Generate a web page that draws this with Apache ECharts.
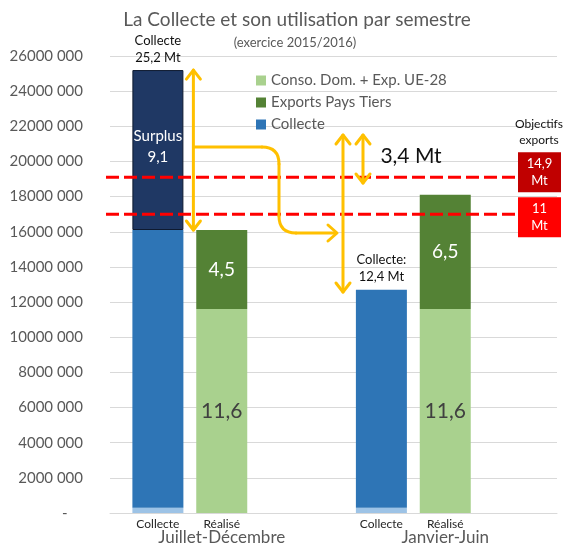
<!DOCTYPE html>
<html>
<head>
<meta charset="utf-8">
<script src="https://cdn.jsdelivr.net/npm/echarts@6/dist/echarts.min.js"></script>
<style>
  html, body { margin: 0; padding: 0; background: #fff; }
  #chart { width: 565px; height: 546px; }
</style>
</head>
<body>
<div id="chart"></div>
<script>
// x slots of the category axis (empty slots give the spacing between the two semesters)
const slotLabels = ["", "Collecte", "", "Réalisé", "", "", "", "", "Collecte", "", "Réalisé", "", "", ""];
const periodLabels = ["", "", "", "Juillet-Décembre", "", "", "", "", "", "", "Janvier-Juin", "", "", ""];
const barSlots = [1, 3, 8, 10];

// values in Mt, one entry per bar
const baseValues = [0.3, 0, 0.3, 0];
const collecteValues = [15.8, 0, 12.4, 0];
const surplusValues = [9.1, 0, 0, 0];
const consoValues = [0, 11.6, 0, 11.6];
const exportsValues = [0, 4.5, 0, 6.5];

// objective lines (axis level, Mt) and their boxes
const objectiveLevels = [19.1, 17.0];
const objectiveTexts = ["14,9\nMt", "11\nMt"];
const objectiveColors = ["#C00000", "#FF0000"];

const yTicks = {min: 0, max: 26000000, interval: 2000000};

const FONT = "Lato, 'Open Sans', sans-serif";
const ORANGE = "#FFC000";

const chart = echarts.init(document.getElementById("chart"));

function toSlots(values) {
    const out = slotLabels.map(() => null);
    barSlots.forEach((slot, i) => {
        out[slot] = values[i] ? values[i] * 1e6 : null;
    });
    return out;
}

function fmt(v) {
    return (v / 1e6).toFixed(1).replace(".", ",");
}

const barWidth = 51;

chart.setOption({
    animation: false,
    textStyle: {fontFamily: FONT},
    grid: {left: 110, right: 8, top: 56, bottom: 33},
    legend: {
        orient: "vertical",
        left: 251,
        top: 68,
        itemWidth: 10,
        itemHeight: 10,
        itemGap: 7,
        icon: "rect",
        textStyle: {fontSize: 15, color: "#595959", fontFamily: FONT},
        data: ["Conso. Dom. + Exp. UE-28", "Exports Pays Tiers", "Collecte"]
    },
    xAxis: [{
        type: "category",
        data: slotLabels,
        axisLine: {lineStyle: {color: "#D9D9D9"}},
        axisTick: {show: false},
        axisLabel: {interval: 0, fontSize: 12, color: "#262626", margin: 5}
    }, {
        type: "category",
        position: "bottom",
        data: periodLabels,
        axisLine: {show: false},
        axisTick: {show: false},
        splitLine: {show: false},
        axisLabel: {interval: 0, fontSize: 17, color: "#595959", margin: 16}
    }],
    yAxis: {
        type: "value",
        min: yTicks.min,
        max: yTicks.max,
        interval: yTicks.interval,
        axisLine: {show: false},
        axisTick: {show: false},
        splitLine: {lineStyle: {color: "#D9D9D9"}},
        axisLabel: {
            fontSize: 15,
            color: "#595959",
            margin: 27,
            formatter: v => v === 0 ? "-    " : `${Math.floor(v / 1000)} 000`
        }
    },
    series: [{
        name: "base",
        type: "bar",
        stack: "s",
        barWidth,
        data: toSlots(baseValues),
        itemStyle: {color: "#9DC3E6"}
    }, {
        name: "Collecte",
        type: "bar",
        stack: "s",
        barWidth,
        data: toSlots(collecteValues),
        itemStyle: {color: "#2E75B6"},
        label: {
            show: true,
            position: "top",
            distance: 4,
            fontSize: 13,
            lineHeight: 17,
            color: "#111",
            formatter: p => p.dataIndex === barSlots[2] ? `Collecte:\n${fmt(p.value)} Mt` : ""
        }
    }, {
        name: "Surplus",
        type: "bar",
        stack: "s",
        barWidth,
        data: toSlots(surplusValues),
        itemStyle: {color: "#1F3864", borderColor: "#0E1A30", borderWidth: 1},
        label: {
            show: true,
            position: "inside",
            offset: [0, -3],
            fontSize: 15,
            lineHeight: 21,
            color: "#fff",
            formatter: p => `Surplus\n${fmt(p.value)}`
        }
    }, {
        name: "Conso. Dom. + Exp. UE-28",
        type: "bar",
        stack: "s",
        barWidth,
        data: toSlots(consoValues),
        itemStyle: {color: "#A9D18E"},
        label: {show: true, position: "inside", fontSize: 21, color: "#404040", formatter: p => fmt(p.value)}
    }, {
        name: "Exports Pays Tiers",
        type: "bar",
        stack: "s",
        barWidth,
        data: toSlots(exportsValues),
        itemStyle: {color: "#548235"},
        label: {show: true, position: "inside", fontSize: 19, color: "#fff", formatter: p => fmt(p.value)}
    }]
});

const yPix = v => chart.convertToPixel({yAxisIndex: 0}, v * 1e6);
const xPix = slot => chart.convertToPixel({xAxisIndex: 0}, slot);

function textEl(text, x, y, size, color, extra = {}) {
    return {
        type: "text",
        x, y,
        z: 100,
        style: {
            text,
            fill: color,
            font: `normal ${size}px ${FONT}`,
            align: "center",
            verticalAlign: "middle",
            textAlign: "center",
            textVerticalAlign: "middle",
            lineHeight: extra.lineHeight || size + 3
        }
    };
}

const orangeStyle = {stroke: ORANGE, lineWidth: 3, fill: null, lineJoin: "round", lineCap: "round"};

function line(points) {
    return {type: "polyline", z: 90, shape: {points}, style: orangeStyle};
}

function curve(x1, y1, cx, cy, x2, y2) {
    return {type: "bezierCurve", z: 90, shape: {x1, y1, x2, y2, cpx1: cx, cpy1: cy}, style: orangeStyle};
}

function vArrow(x, yTop, yBottom, head = 7) {
    return [
        line([[x, yTop], [x, yBottom]]),
        line([[x - head, yTop + head + 2], [x, yTop], [x + head, yTop + head + 2]]),
        line([[x - head, yBottom - head - 2], [x, yBottom], [x + head, yBottom - head - 2]])
    ];
}

const totalFirst = baseValues[0] + collecteValues[0] + surplusValues[0];
const gridLeft = 106;
const gridRight = 515;

const graphics = [];

// titles
graphics.push(textEl("La Collecte et son utilisation par semestre", 297, 20, 19, "#595959"));
graphics.push(textEl("(exercice 2015/2016)", 295, 43, 13, "#595959"));

// top label for first collecte bar
graphics.push(textEl(`Collecte\n${fmt(totalFirst * 1e6)} Mt`, xPix(barSlots[0]), yPix(totalFirst) - 21, 13, "#111", {lineHeight: 17}));

// objective dashed lines and boxes
objectiveLevels.forEach((lv, i) => {
    const y = yPix(lv);
    graphics.push({
        type: "line",
        z: 80,
        shape: {x1: gridLeft, y1: y, x2: gridRight, y2: y},
        style: {stroke: "#FF0000", lineWidth: 3, lineDash: [13, 5]}
    });
    const boxTop = i === 0 ? y - 25 : y - 17;
    graphics.push({
        type: "rect",
        z: 85,
        shape: {x: 518, y: boxTop, width: 43, height: 40},
        style: {fill: objectiveColors[i]}
    });
    graphics.push(textEl(objectiveTexts[i], 539.5, boxTop + 20, 13, "#fff", {lineHeight: 17}));
});
graphics.push(textEl("Objectifs\nexports", 539, 132, 12, "#111", {lineHeight: 16}));

// orange arrows
const bar1Right = xPix(barSlots[0]) + barWidth / 2;
const arrowX1 = bar1Right + 10;
graphics.push(...vArrow(arrowX1, yPix(totalFirst), yPix(baseValues[0] + collecteValues[0])));

const curveY1 = 147;
const curveY2 = 233;
const curveX = 279;
graphics.push(line([[arrowX1, curveY1], [curveX - 17, curveY1]]));
graphics.push(curve(curveX - 17, curveY1, curveX, curveY1, curveX, curveY1 + 17));
graphics.push(line([[curveX, curveY1 + 17], [curveX, curveY2 - 17]]));
graphics.push(curve(curveX, curveY2 - 17, curveX, curveY2, curveX + 17, curveY2));
graphics.push(line([[curveX + 17, curveY2], [336, curveY2]]));
graphics.push(line([[328, curveY2 - 8], [337, curveY2], [328, curveY2 + 8]]));

graphics.push(...vArrow(343, 135, 292));
graphics.push(...vArrow(363, 135, 183));
graphics.push(textEl("3,4 Mt", 411, 156, 21, "#111"));

chart.setOption({graphic: graphics});
</script>
</body>
</html>
